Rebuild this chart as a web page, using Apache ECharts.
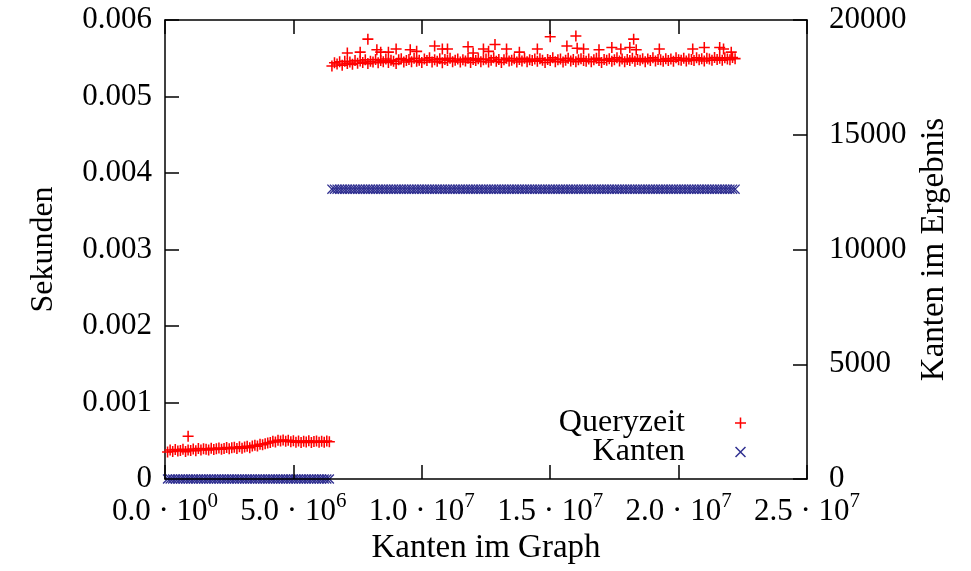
<!DOCTYPE html>
<html>
<head>
<meta charset="utf-8">
<script src="https://cdn.jsdelivr.net/npm/echarts@6/dist/echarts.min.js"></script>
<style>html,body{margin:0;padding:0;background:#fff}#c{width:971px;height:571px}</style>
</head>
<body>
<div id="c"></div>
<script>
// x values in units of 1e5 edges, query times in microseconds
const xA = [1,2,3,4,5,6,7,8,9,10,11,12,13,14,15,16,17,18,19,20,21,22,23,24,25,26,27,28,29,30,31,32,33,34,35,36,37,38,39,40,41,42,43,44,45,46,47,48,49,50,51,52,53,54,55,56,57,58,59,60,61,62,63,64];
const queryA = [352,378,360,385,366,372,390,358,380,374,
392,370,398,380,395,388,378,402,385,396,
405,390,398,412,395,408,415,398,420,402,
418,428,410,432,440,430,455,448,462,470,
478,492,485,505,498,510,492,506,488,500,
482,498,478,495,485,500,476,490,498,482,
494,480,496,488];
const kantenA = [0,0,0,0,0,0,0,0,0,0,0,0,0,0,0,0,0,0,0,0,0,0,0,0,0,0,0,0,0,0,0,0,0,0,0,0,0,0,0,0,0,0,0,0,0,0,0,0,0,0,0,0,0,0,0,0,0,0,0,0,0,0,0,0];
const xOutA = [9];
const queryOutA = [560];

const xB = [65,66,67,68,69,70,71,72,73,74,75,76,77,78,79,80,81,82,83,84,85,86,87,88,89,90,91,92,93,94,95,96,97,98,99,100,101,102,103,104,105,106,107,108,109,110,111,112,113,114,115,116,117,118,119,120,121,122,123,124,125,126,127,128,129,130,131,132,133,134,135,136,137,138,139,140,141,142,143,144,145,146,147,148,149,150,151,152,153,154,155,156,157,158,159,160,161,162,163,164,165,166,167,168,169,170,171,172,173,174,175,176,177,178,179,180,181,182,183,184,185,186,187,188,189,190,191,192,193,194,195,196,197,198,199,200,201,202,203,204,205,206,207,208,209,210,211,212,213,214,215,216,217,218,219,220,221,222];
const queryB = [5400,5440,5425,5455,5410,5460,5430,5450,5420,5470,
5435,5465,5445,5480,5430,5460,5450,5485,5440,5470,
5455,5490,5445,5475,5460,5430,5480,5495,5450,5470,
5485,5455,5500,5460,5475,5445,5490,5470,5505,5450,
5480,5460,5495,5440,5485,5470,5500,5455,5475,5490,
5450,5480,5465,5500,5445,5485,5470,5495,5455,5480,
5490,5450,5475,5505,5460,5485,5445,5480,5500,5465,
5475,5495,5450,5485,5465,5500,5455,5480,5470,5490,
5460,5495,5475,5445,5485,5470,5505,5455,5480,5490,
5450,5475,5500,5465,5485,5455,5480,5495,5470,5460,
5490,5455,5480,5500,5470,5445,5485,5475,5495,5460,
5480,5505,5465,5490,5455,5485,5470,5500,5460,5485,
5475,5495,5455,5490,5470,5505,5465,5485,5480,5460,
5495,5470,5490,5460,5505,5480,5475,5500,5465,5490,
5485,5470,5505,5480,5495,5465,5500,5490,5475,5510,
5485,5500,5475,5505,5490,5480,5510,5495];
const kantenB = [12630,12630,12630,12630,12630,12630,12630,12630,12630,12630,
12630,12630,12630,12630,12630,12630,12630,12630,12630,12630,
12630,12630,12630,12630,12630,12630,12630,12630,12630,12630,
12630,12630,12630,12630,12630,12630,12630,12630,12630,12630,
12630,12630,12630,12630,12630,12630,12630,12630,12630,12630,
12630,12630,12630,12630,12630,12630,12630,12630,12630,12630,
12630,12630,12630,12630,12630,12630,12630,12630,12630,12630,
12630,12630,12630,12630,12630,12630,12630,12630,12630,12630,
12630,12630,12630,12630,12630,12630,12630,12630,12630,12630,
12630,12630,12630,12630,12630,12630,12630,12630,12630,12630,
12630,12630,12630,12630,12630,12630,12630,12630,12630,12630,
12630,12630,12630,12630,12630,12630,12630,12630,12630,12630,
12630,12630,12630,12630,12630,12630,12630,12630,12630,12630,
12630,12630,12630,12630,12630,12630,12630,12630,12630,12630,
12630,12630,12630,12630,12630,12630,12630,12630,12630,12630,
12630,12630,12630,12630,12630,12630,12630,12630];
const xOutB = [71,76,79,82.5,84,87,90,95.5,98,105,108,110,118,120,124,126,128.5,133,138,145,150,156.5,160,160.5,163,169,174,177.5,181,182.5,183.5,192.5,205.5,210,216,217.5,220.5];
const queryOutB = [5570,5580,5750,5610,5580,5580,5620,5610,5590,5660,5620,5620,5650,5570,5620,5590,5680,5620,5580,5620,5780,5660,5790,5630,5620,5610,5640,5620,5640,5750,5610,5620,5620,5640,5640,5620,5580];

const xTickMant = ['0.0','5.0','1.0','1.5','2.0','2.5'];
const xTickExp = ['0','6','7','7','7','7'];
const yLeftTicks = ['0','0.001','0.002','0.003','0.004','0.005','0.006'];
const yRightTicks = ['0','5000','10000','15000','20000'];

const FONT = '"Liberation Serif", "Times New Roman", serif';
const plusPath = 'path://M0,4.3H10V5.7H0Z M4.3,0H5.7V10H4.3Z';
const crossPath = 'path://M0,0.95L0.95,0L10,9.05L9.05,10Z M9.05,0L10,0.95L0.95,10L0,9.05Z';

const pts = (xs, ys, sx, sy) => xs.map((x, i) => [x * sx, ys[i] * sy]);
const queryData = [].concat(
  pts(xA, queryA, 1e5, 1e-6),
  pts(xOutA, queryOutA, 1e5, 1e-6),
  pts(xB, queryB, 1e5, 1e-6),
  pts(xOutB, queryOutB, 1e5, 1e-6)
);
const kantenData = [].concat(pts(xA, kantenA, 1e5, 1), pts(xB, kantenB, 1e5, 1));

const mkLine = () => ({ show: true, onZero: false, lineStyle: { color: '#000', width: 1.5 } });
const mkTick = () => ({ show: true, inside: true, length: 14, lineStyle: { color: '#000', width: 1.5 } });

const chart = echarts.init(document.getElementById('c'), null, { renderer: 'canvas' });
chart.setOption({
  animation: false,
  backgroundColor: '#fff',
  grid: { left: 165, right: 164, top: 20, bottom: 92, containLabel: false },
  legend: {
    orient: 'vertical', align: 'right', right: 220, top: 402,
    itemWidth: 11, itemHeight: 11, itemGap: -3,
    selectedMode: false,
    data: [{ name: 'Queryzeit', icon: plusPath }, { name: 'Kanten', icon: crossPath }],
    formatter: n => '{t|' + n + '}',
    textStyle: { fontFamily: FONT, fontSize: 32, color: '#000',
      rich: { t: { fontFamily: FONT, fontSize: 32, color: '#000', lineHeight: 29, padding: [0, 45, 0, 0] } } }
  },
  xAxis: [{
    type: 'value', position: 'bottom', min: 0, max: 2.5e7, interval: 5e6, z: 5,
    axisLine: mkLine(), axisTick: mkTick(), splitLine: { show: false },
    axisLabel: {
      margin: 12, color: '#000',
      formatter: (v, i) => '{m|' + xTickMant[i] + ' · 10}{s|' + xTickExp[i] + '}',
      rich: {
        m: { fontFamily: FONT, fontSize: 31, color: '#000', lineHeight: 36, verticalAlign: 'bottom' },
        s: { fontFamily: FONT, fontSize: 21, color: '#000', lineHeight: 36, verticalAlign: 'top' }
      }
    },
    name: 'Kanten im Graph', nameLocation: 'middle', nameGap: 53,
    nameTextStyle: { fontFamily: FONT, fontSize: 33, color: '#000' }
  }, {
    type: 'value', position: 'top', min: 0, max: 2.5e7, interval: 5e6, z: 5,
    axisLine: mkLine(), axisTick: mkTick(), axisLabel: { show: false }, splitLine: { show: false }
  }],
  yAxis: [{
    type: 'value', position: 'left', min: 0, max: 0.006, interval: 0.001,
    axisLine: mkLine(), axisTick: mkTick(), splitLine: { show: false },
    axisLabel: { margin: 13, color: '#000', fontFamily: FONT, fontSize: 31, formatter: (v, i) => yLeftTicks[i] },
    name: 'Sekunden', nameLocation: 'middle', nameGap: 105, nameRotate: 90,
    nameTextStyle: { fontFamily: FONT, fontSize: 32, color: '#000' }
  }, {
    type: 'value', position: 'right', min: 0, max: 20000, interval: 5000,
    axisLine: mkLine(), axisTick: mkTick(), splitLine: { show: false },
    axisLabel: { margin: 22, color: '#000', fontFamily: FONT, fontSize: 31, formatter: (v, i) => yRightTicks[i] },
    name: 'Kanten im Ergebnis', nameLocation: 'middle', nameGap: 110, nameRotate: 90,
    nameTextStyle: { fontFamily: FONT, fontSize: 33, color: '#000' }
  }],
  series: [{
    name: 'Queryzeit', type: 'scatter', xAxisIndex: 0, yAxisIndex: 0,
    symbol: plusPath, symbolSize: 11,
    itemStyle: { color: '#ff0000', opacity: 1 },
    data: queryData
  }, {
    name: 'Kanten', type: 'scatter', xAxisIndex: 0, yAxisIndex: 1,
    symbol: crossPath, symbolSize: 10,
    itemStyle: { color: '#2f2f90', opacity: 1 },
    data: kantenData
  }]
});
</script>
</body>
</html>
